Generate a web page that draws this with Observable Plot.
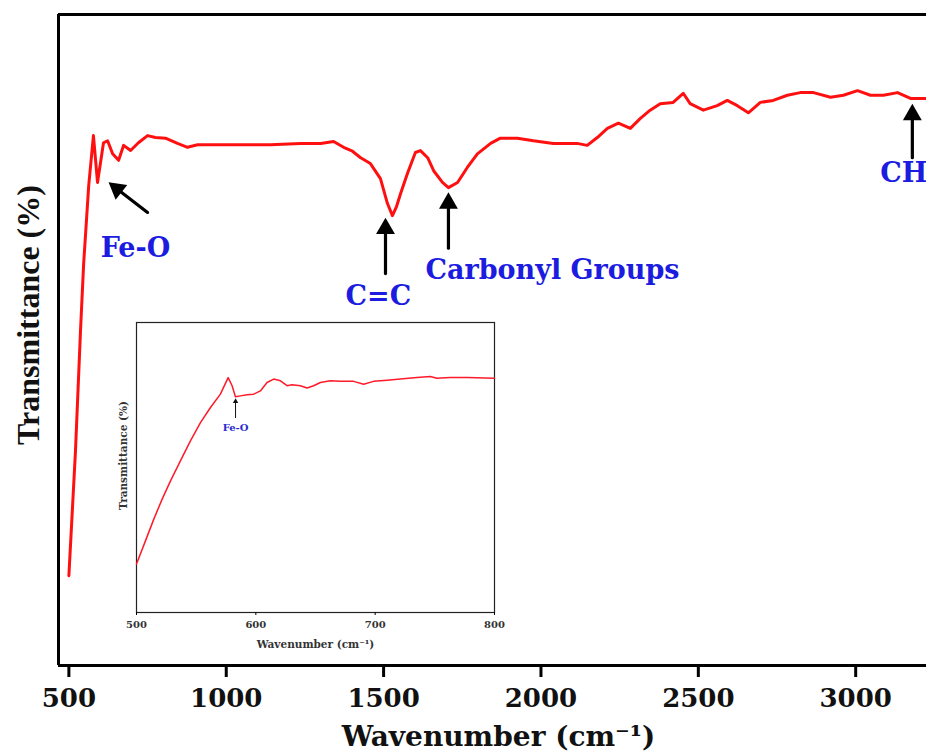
<!DOCTYPE html>
<html>
<head>
<meta charset="utf-8">
<script src="https://cdn.jsdelivr.net/npm/d3@7"></script>
<script src="https://cdn.jsdelivr.net/npm/@observablehq/plot@0.6"></script>
<style>
  html, body { margin: 0; padding: 0; background: white; }
  #wrap { position: relative; width: 926px; height: 756px; overflow: hidden; }
  #inset { position: absolute; left: 96px; top: 312px; }
  #wrap svg { max-width: none; }
</style>
</head>
<body>
<div id="wrap"><div id="main"></div><div id="inset"></div></div>
<script>
// ---- main FTIR spectrum ----
const wavenumber = [500, 521, 537, 547, 563, 578, 591, 610, 623, 639, 658, 674, 696, 721, 750, 775, 807, 845, 877, 909,
  1014, 1141, 1236, 1300, 1341, 1373, 1401, 1427, 1458, 1490, 1512, 1528, 1541, 1554, 1576, 1601, 1617, 1640, 1659, 1687,
  1706, 1735, 1766, 1798, 1840, 1871, 1925, 1976, 2039, 2084, 2115, 2147, 2179, 2211, 2246, 2284, 2315, 2347, 2379, 2420,
  2452, 2474, 2516, 2560, 2592, 2624, 2659, 2697, 2738, 2783, 2824, 2866, 2920, 2961, 3006, 3047, 3088, 3133, 3174, 3225];
const transmittance = [13.8, 33.0, 51.5, 61.8, 73.7, 81.4, 74.2, 80.3, 80.6, 78.6, 77.6, 79.9, 79.1, 80.3, 81.4, 81.1, 81.0, 80.2, 79.6, 80.0,
  80.0, 80.0, 80.2, 80.2, 80.5, 79.6, 79.0, 78.0, 77.1, 74.8, 71.0, 69.1, 70.5, 72.5, 75.6, 78.8, 79.1, 78.0, 76.0, 74.2,
  73.4, 74.2, 76.5, 78.6, 80.2, 81.0, 81.0, 80.6, 80.2, 80.2, 80.2, 79.9, 81.1, 82.5, 83.3, 82.5, 84.0, 85.3, 86.3, 86.5,
  87.9, 86.3, 85.3, 86.0, 86.8, 86.0, 84.9, 86.5, 86.8, 87.6, 88.0, 88.0, 87.3, 87.6, 88.3, 87.6, 87.6, 88.0, 87.1, 87.1];
const xTicks = [500, 1000, 1500, 2000, 2500, 3000];

// band labels and arrows (data units)
const bandLabels = ["Fe-O", "C=C", "Carbonyl Groups", "CH"];
const bandLabelW = [601, 1379, 1633, 3078];
const bandLabelT = [62.7, 55.3, 59.4, 74.2];
const arrowTipW = [626, 1506, 1706, 3180];
const arrowTipT = [74.2, 68.8, 72.7, 86.3];
const arrowTailW = [750, 1506, 1706, 3180];
const arrowTailT = [69.6, 60.2, 64.1, 78.0];

// ---- inset (500-800 cm-1) ----
const insetWavenumber = [500, 507.5, 514.5, 521.5, 528.5, 536.8, 545.2, 553.6, 562, 570.3, 576.8, 580.1, 582.9, 587.1, 592.7,
  598.2, 603.8, 609.4, 615, 620.6, 626.2, 630.3, 637.3, 642.9, 648.5, 654.1, 662.4, 670.8, 682, 690.3, 698.7, 709.9, 721,
  735, 746.2, 751.7, 762.9, 776.9, 800];
const insetTransmittance = [16.7, 24.7, 32.2, 39.1, 45.4, 52.3, 59.2, 65.5, 70.7, 75.3, 81.0, 78.2, 74.4, 74.7, 75.1,
  75.3, 76.4, 79.3, 80.5, 79.9, 78.2, 78.5, 78.2, 77.4, 78.2, 79.3, 79.9, 79.7, 79.7, 78.7, 79.7, 80.1, 80.5,
  81.0, 81.4, 80.8, 81.0, 81.0, 80.8];
const insetTicks = [500, 600, 700, 800];
const insetLabel = ["Fe-O"];
const insetLabelW = [583];
const insetLabelT = [63.8];
const insetArrowTipW = [583], insetArrowTipT = [73.8], insetArrowTailT = [67.2];

const blue = "#1c1ce0";
const serif = "DejaVu Serif";

const spectrum = wavenumber.map((w, i) => ({w, t: transmittance[i]}));
const labels = bandLabels.map((s, i) => ({s, w: bandLabelW[i], t: bandLabelT[i]}));
const arrows = arrowTipW.map((w, i) => ({x1: arrowTailW[i], y1: arrowTailT[i], x2: w, y2: arrowTipT[i], i}));

const main = Plot.plot({
  width: 926,
  height: 756,
  marginLeft: 58,
  marginTop: 14,
  marginRight: 0,
  marginBottom: 91,
  style: {fontFamily: serif, fontWeight: "bold", background: "white", overflow: "hidden"},
  x: {domain: [467, 3225]},
  y: {domain: [0, 100]},
  marks: [
    Plot.ruleY([100], {strokeWidth: 3}),
    Plot.ruleY([0], {strokeWidth: 3}),
    Plot.ruleX([467], {strokeWidth: 3}),
    Plot.axisX({ticks: xTicks, tickFormat: "d", tickSize: 12, strokeWidth: 3, tickPadding: 11, fontSize: 26, fontWeight: "bold", fill: "#111", label: null}),
    Plot.axisY({ticks: [], label: null}),
    Plot.line(spectrum, {x: "w", y: "t", stroke: "#ff1010", strokeWidth: 3, strokeLinejoin: "round"}),
    Plot.arrow(arrows, {x1: "x1", y1: "y1", x2: "x2", y2: "y2", headLength: 0, insetEnd: 10, strokeWidth: 3.2, stroke: "black"}),
    Plot.dot(arrows.filter(d => d.i === 0), {x: "x2", y: "y2", symbol: "triangle", r: 7, fill: "black", rotate: -52, dx: 8.6, dy: 6.6}),
    Plot.dot(arrows.filter(d => d.i > 0), {x: "x2", y: "y2", symbol: "triangle", r: 7, fill: "black", dy: 11}),
    Plot.text(labels, {x: "w", y: "t", text: "s", fill: blue, fontSize: 27, fontWeight: "bold", fontFamily: serif, textAnchor: "start", lineAnchor: "bottom"}),
    Plot.text(["Wavenumber (cm⁻¹)"], {frameAnchor: "bottom", dx: 6, dy: 80, fontSize: 28, fontWeight: "bold", fontFamily: serif, fill: "#111", textAnchor: "middle", lineAnchor: "bottom"}),
    Plot.text(["Transmittance (%)"], {frameAnchor: "left", dx: -30, dy: -25, rotate: -90, fontSize: 32, fontWeight: "bold", fontFamily: "Liberation Serif", fill: "#111", textAnchor: "middle", lineAnchor: "middle"})
  ]
});
document.getElementById("main").appendChild(main);

const insetData = insetWavenumber.map((w, i) => ({w, t: insetTransmittance[i]}));
const insetArrows = insetArrowTipW.map((w, i) => ({x1: w, y1: insetArrowTailT[i], x2: w, y2: insetArrowTipT[i]}));
const insetLabels = insetLabel.map((s, i) => ({s, w: insetLabelW[i], t: insetLabelT[i]}));

const inset = Plot.plot({
  width: 410,
  height: 345,
  marginLeft: 40,
  marginTop: 10,
  marginRight: 12,
  marginBottom: 45,
  style: {fontFamily: serif, fontWeight: "bold", background: "transparent"},
  x: {domain: [500, 800]},
  y: {domain: [0, 100]},
  marks: [
    Plot.frame({stroke: "#222", strokeWidth: 1.2}),
    Plot.axisX({ticks: insetTicks, tickFormat: "d", tickSize: 3, tickPadding: 5, fontSize: 10, fill: "#333", label: null}),
    Plot.axisY({ticks: [], label: null}),
    Plot.line(insetData, {x: "w", y: "t", stroke: "#ff1a2a", strokeWidth: 1.5}),
    Plot.arrow(insetArrows, {x1: "x1", y1: "y1", x2: "x2", y2: "y2", headLength: 0, insetEnd: 3, strokeWidth: 1, stroke: "#111"}),
    Plot.dot(insetArrows, {x: "x2", y: "y2", symbol: "triangle", r: 2, fill: "#111", dy: 3}),
    Plot.text(insetLabels, {x: "w", y: "t", text: "s", fill: "#2a2ad0", fontSize: 10, fontWeight: "bold", fontFamily: serif}),
    Plot.text(["Wavenumber (cm⁻¹)"], {frameAnchor: "bottom", dx: 0, dy: 35, fontSize: 10.5, fontWeight: "bold", fontFamily: serif, fill: "#333", textAnchor: "middle", lineAnchor: "bottom"}),
    Plot.text(["Transmittance (%)"], {frameAnchor: "left", dx: -13, dy: -12, rotate: -90, fontSize: 10.5, fontWeight: "bold", fontFamily: serif, fill: "#333", textAnchor: "middle", lineAnchor: "middle"})
  ]
});
document.getElementById("inset").appendChild(inset);
</script>
</body>
</html>
